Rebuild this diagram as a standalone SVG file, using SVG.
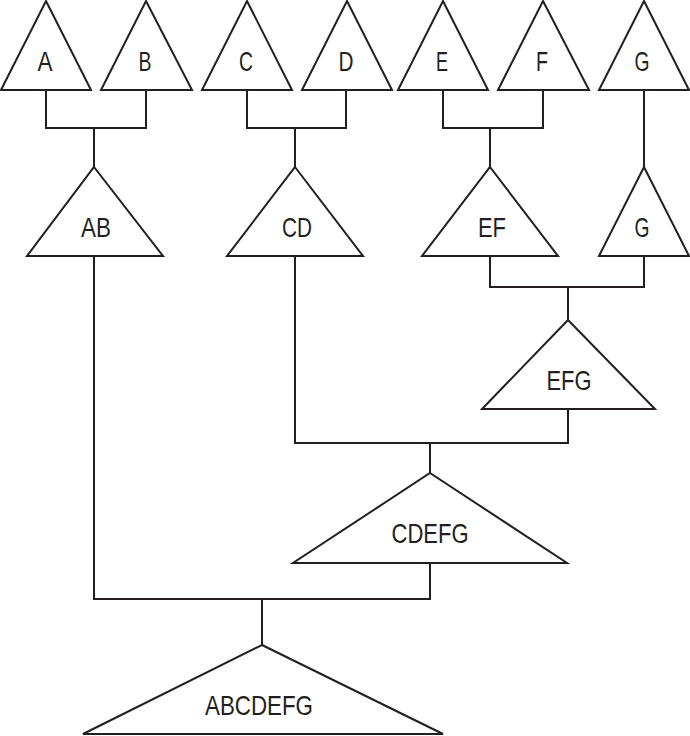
<svg xmlns="http://www.w3.org/2000/svg" width="690" height="736" viewBox="0 0 690 736">
<style>
.t{fill:#fff;stroke:#231f20;stroke-width:2;stroke-linejoin:miter}
.c{fill:none;stroke:#231f20;stroke-width:2}
text{font-family:"Liberation Sans",Arial,sans-serif;font-size:28px;fill:#231f20;text-anchor:middle}
</style>
<rect width="690" height="736" fill="#fff"/>
<g id="connectors">
<path class="c" d="M46 90V128H146V90M94 128V167"/>
<path class="c" d="M247 90V128H346V90M295 128V167"/>
<path class="c" d="M443 90V128H543V90M490 128V167"/>
<path class="c" d="M644 90V167"/>
<path class="c" d="M490 256V287H644V256M568 287V320"/>
<path class="c" d="M295 256V443H568V409M430 443V473"/>
<path class="c" d="M94 256V599H430V563M262 599V645"/>
</g>
<g id="A"><path class="t" d="M46 1L91 90H1Z"/><text x="45" y="71" textLength="15" lengthAdjust="spacingAndGlyphs">A</text></g>
<g id="B"><path class="t" d="M146 1L192 90H101Z"/><text x="145" y="71" textLength="13" lengthAdjust="spacingAndGlyphs">B</text></g>
<g id="C"><path class="t" d="M247 1L292 90H202Z"/><text x="246" y="71" textLength="14" lengthAdjust="spacingAndGlyphs">C</text></g>
<g id="D"><path class="t" d="M347 1L392 90H302Z"/><text x="346" y="71" textLength="15" lengthAdjust="spacingAndGlyphs">D</text></g>
<g id="E"><path class="t" d="M443 1L488 90H398Z"/><text x="442" y="71" textLength="12" lengthAdjust="spacingAndGlyphs">E</text></g>
<g id="F"><path class="t" d="M543 1L589 90H498Z"/><text x="542" y="71" textLength="12" lengthAdjust="spacingAndGlyphs">F</text></g>
<g id="G"><path class="t" d="M644 1L689 90H599Z"/><text x="642" y="71" textLength="15" lengthAdjust="spacingAndGlyphs">G</text></g>
<g id="AB"><path class="t" d="M94 167L163 256H27Z"/><text x="96" y="237" textLength="30" lengthAdjust="spacingAndGlyphs">AB</text></g>
<g id="CD"><path class="t" d="M295 167L363 256H227Z"/><text x="297" y="237" textLength="30" lengthAdjust="spacingAndGlyphs">CD</text></g>
<g id="EF"><path class="t" d="M490 167L558 256H422Z"/><text x="492" y="237" textLength="28" lengthAdjust="spacingAndGlyphs">EF</text></g>
<g id="G2"><path class="t" d="M644 167L689 256H599Z"/><text x="642" y="237" textLength="15" lengthAdjust="spacingAndGlyphs">G</text></g>
<g id="EFG"><path class="t" d="M568 320L655 409H482Z"/><text x="569" y="390" textLength="45" lengthAdjust="spacingAndGlyphs">EFG</text></g>
<g id="CDEFG"><path class="t" d="M430 473L567 563H293Z"/><text x="430" y="543" textLength="77" lengthAdjust="spacingAndGlyphs">CDEFG</text></g>
<g id="ABCDEFG"><path class="t" d="M262 645L443 734H83Z"/><text x="259" y="715" textLength="108" lengthAdjust="spacingAndGlyphs">ABCDEFG</text></g>
</svg>
